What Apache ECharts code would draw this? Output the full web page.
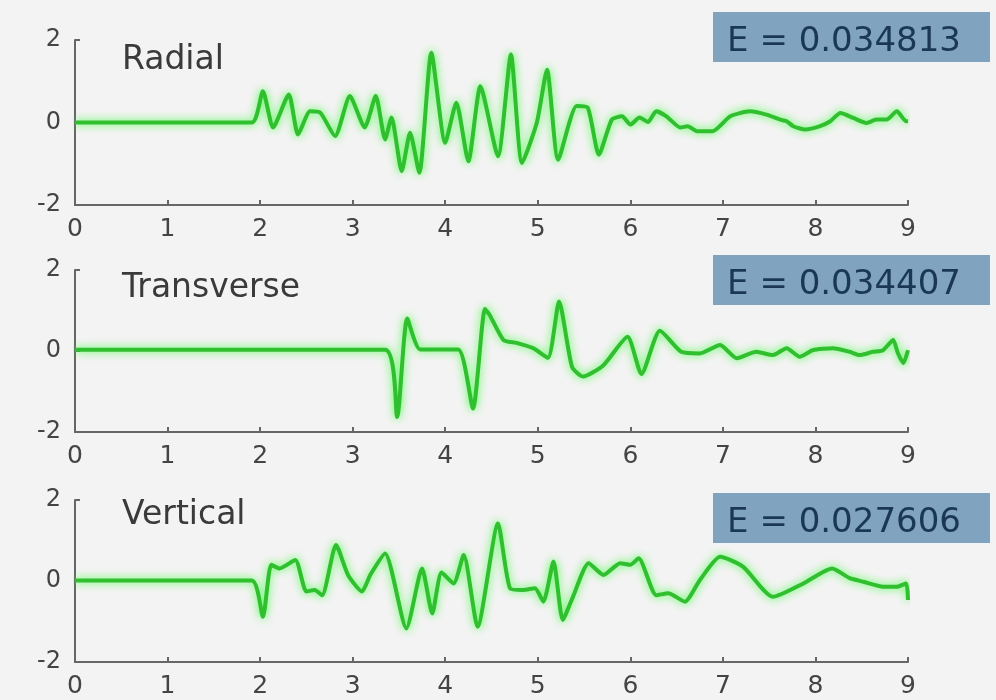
<!DOCTYPE html>
<html>
<head>
<meta charset="utf-8">
<script src="https://cdn.jsdelivr.net/npm/echarts@6/dist/echarts.min.js"></script>
<style>
  html, body { margin: 0; padding: 0; background: #f3f3f3; }
  #main { width: 996px; height: 700px; }
</style>
</head>
<body>
<div id="main"></div>
<script>
// time (s) and amplitude
var radialT = [0, 1.91, 2.03, 2.14, 2.31, 2.41, 2.54, 2.65, 2.81, 2.97, 3.13, 3.25, 3.35, 3.42, 3.53, 3.62, 3.72, 3.85, 4.0, 4.12, 4.25, 4.38, 4.57, 4.71, 4.83, 4.99, 5.10, 5.22, 5.42, 5.54, 5.66, 5.80, 5.91, 6.0, 6.10, 6.19, 6.28, 6.39, 6.54, 6.62, 6.72, 6.89, 7.08, 7.29, 7.47, 7.62, 7.69, 7.76, 7.89, 8.05, 8.16, 8.27, 8.41, 8.55, 8.66, 8.77, 8.88, 8.98, 9.0];
var radialV = [0, 0, 0.76, -0.12, 0.68, -0.29, 0.27, 0.24, -0.33, 0.64, -0.12, 0.64, -0.41, 0.12, -1.18, -0.25, -1.22, 1.69, -0.49, 0.48, -0.94, 0.88, -0.82, 1.65, -0.98, 0.0, 1.28, -0.9, 0.40, 0.36, -0.78, 0.07, 0.15, -0.05, 0.12, 0.01, 0.27, 0.15, -0.12, -0.09, -0.21, -0.21, 0.15, 0.27, 0.19, 0.07, 0.03, -0.09, -0.17, -0.09, 0.03, 0.23, 0.11, -0.01, 0.07, 0.07, 0.27, 0.03, 0.03];

var transT = [0, 3.35, 3.48, 3.59, 3.73, 4.14, 4.30, 4.43, 4.48, 4.63, 4.77, 4.95, 5.11, 5.23, 5.37, 5.49, 5.71, 5.97, 6.12, 6.32, 6.55, 6.75, 6.97, 7.15, 7.36, 7.54, 7.69, 7.83, 7.97, 8.19, 8.37, 8.48, 8.62, 8.73, 8.84, 8.89, 8.95, 9.0];
var transV = [0.03, 0.03, -1.63, 0.80, 0.04, 0.04, -1.42, 1.04, 0.89, 0.27, 0.20, 0.07, -0.17, 1.22, -0.39, -0.63, -0.35, 0.35, -0.57, 0.50, -0.02, -0.06, 0.15, -0.18, -0.02, -0.10, 0.07, -0.14, 0.02, 0.07, -0.02, -0.10, -0.02, 0.02, 0.27, -0.05, -0.30, 0.02];

var vertT = [0, 1.91, 2.03, 2.12, 2.21, 2.38, 2.50, 2.59, 2.67, 2.82, 2.95, 3.10, 3.19, 3.35, 3.58, 3.75, 3.86, 3.96, 4.09, 4.20, 4.35, 4.57, 4.70, 4.84, 4.97, 5.06, 5.17, 5.27, 5.38, 5.55, 5.71, 5.89, 6.0, 6.09, 6.28, 6.41, 6.59, 6.75, 6.97, 7.22, 7.54, 7.87, 8.18, 8.37, 8.52, 8.73, 8.88, 8.98, 9.0];
var vertV = [0.01, 0.01, -0.88, 0.40, 0.31, 0.52, -0.26, -0.22, -0.35, 0.89, 0.15, -0.26, 0.15, 0.68, -1.17, 0.31, -0.80, 0.21, -0.06, 0.64, -1.13, 1.42, -0.18, -0.22, -0.18, -0.51, 0.48, -0.96, -0.39, 0.44, 0.15, 0.44, 0.40, 0.56, -0.35, -0.30, -0.51, 0.02, 0.60, 0.35, -0.39, -0.06, 0.31, 0.07, -0.02, -0.14, -0.14, -0.06, -0.47];

var panelNames = ["Radial", "Transverse", "Vertical"];
var energyLabels = ["E = 0.034813", "E = 0.034407", "E = 0.027606"];
var xTicks = [0, 1, 2, 3, 4, 5, 6, 7, 8, 9];

function zip(t, v) {
  var out = [];
  for (var i = 0; i < t.length; i++) out.push([t[i], v[i]]);
  return out;
}

var dom = document.getElementById("main");
var myChart = echarts.init(dom, null, { renderer: "canvas" });

var gridTops = [40, 270, 500];
var gridHeights = [165, 162, 162];
var boxTops = [12, 255, 493];
var titleTops = [39, 267, 494];

var grids = [], xAxes = [], yAxes = [], titles = [], graphics = [];
for (var k = 0; k < 3; k++) {
  grids.push({ left: 75, right: 88, top: gridTops[k], height: gridHeights[k] });
  xAxes.push({
    gridIndex: k,
    type: "value",
    min: 0,
    max: 9,
    interval: 1,
    axisLine: { show: true, onZero: false, lineStyle: { color: "#666", width: 2 } },
    axisTick: { show: true, inside: true, length: 5, lineStyle: { color: "#666", width: 2 } },
    axisLabel: {
      color: "#444",
      fontSize: 25,
      fontFamily: "DejaVu Sans",
      margin: 12,
      formatter: function (v) { return xTicks.indexOf(v) >= 0 ? String(v) : ""; }
    },
    splitLine: { show: false }
  });
  yAxes.push({
    gridIndex: k,
    type: "value",
    min: -2,
    max: 2,
    interval: 2,
    axisLine: { show: true, onZero: false, lineStyle: { color: "#666", width: 2 } },
    axisTick: { show: true, inside: true, length: 5, lineStyle: { color: "#666", width: 2 } },
    axisLabel: { color: "#444", fontSize: 24, fontFamily: "DejaVu Sans", margin: 14 },
    splitLine: { show: false }
  });
  titles.push({
    text: panelNames[k],
    left: 117,
    top: titleTops[k],
    textStyle: { color: "#3a3a3a", fontSize: 33, fontWeight: "normal", fontFamily: "DejaVu Sans" }
  });
  graphics.push({
    type: "group",
    left: 713,
    top: boxTops[k],
    children: [
      { type: "rect", shape: { x: 0, y: 0, width: 277, height: 50 }, style: { fill: "#80a3bf" } },
      {
        type: "text",
        x: 131,
        y: 30,
        style: {
          text: energyLabels[k],
          fill: "#1b3757",
          fontSize: 34,
          fontFamily: "DejaVu Sans",
          align: "center",
          verticalAlign: "middle"
        }
      }
    ]
  });
}

var datasets = [zip(radialT, radialV), zip(transT, transV), zip(vertT, vertV)];
var series = [];
for (var s = 0; s < 3; s++) {
  series.push({
    name: panelNames[s],
    type: "line",
    xAxisIndex: s,
    yAxisIndex: s,
    showSymbol: false,
    smooth: 0.2,
    data: datasets[s],
    lineStyle: {
      color: "#2fbf2f",
      width: 4,
      shadowColor: "rgba(50,255,50,0.9)",
      shadowBlur: 8
    }
  });
}

var option = {
  backgroundColor: "#f3f3f3",
  animation: false,
  title: titles,
  grid: grids,
  xAxis: xAxes,
  yAxis: yAxes,
  series: series,
  graphic: graphics
};

myChart.setOption(option);
window.addEventListener("resize", myChart.resize);
</script>
</body>
</html>
